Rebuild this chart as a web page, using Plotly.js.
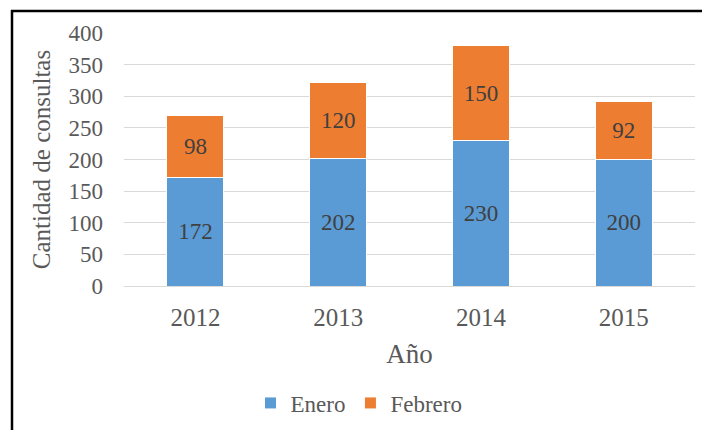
<!DOCTYPE html>
<html><head><meta charset="utf-8">
<script src="https://cdn.plot.ly/plotly-3.0.1.min.js"></script>
<style>html,body{margin:0;padding:0;background:#fff}#chart{width:702px;height:430px}</style>
</head><body><div id="chart"></div>
<script>
const years = ["2012", "2013", "2014", "2015"];
const enero = [172, 202, 230, 200];
const febrero = [98, 120, 150, 92];
const yTicks = [0, 50, 100, 150, 200, 250, 300, 350, 400];

const W = 702, H = 430;
const L = 124, R = 7, T = 33, B = 143;
const pw = W - L - R, ph = H - T - B;
const px = x => (x - L) / pw;
const py = y => (H - B - y) / ph;

const txtColor = '#595959';
const font = 'Liberation Serif';

const traces = [
  {type:'bar', name:'Enero', x: years, y: enero, text: enero.map(String),
   textposition:'inside', insidetextanchor:'middle', constraintext:'none',
   textfont:{family:font, size:23, color:'#404040'},
   marker:{color:'#5B9BD5', line:{color:'#ffffff', width:1}}, hoverinfo:'none'},
  {type:'bar', name:'Febrero', x: years, y: febrero, text: febrero.map(String),
   textposition:'inside', insidetextanchor:'middle', constraintext:'none',
   textfont:{family:font, size:23, color:'#404040'},
   marker:{color:'#ED7D31', line:{color:'#ffffff', width:1}}, hoverinfo:'none'}
];

const layout = {
  width: W, height: H,
  margin:{l:L, r:R, t:T, b:B},
  barmode:'stack', bargap:0.6,
  paper_bgcolor:'#fff', plot_bgcolor:'#fff',
  font:{family:font, color:txtColor, size:23},
  showlegend:true,
  legend:{orientation:'h', x:px(359), xanchor:'center', y:py(403), yanchor:'middle',
          font:{family:font, size:23, color:txtColor}, traceorder:'normal', itemwidth:30, itemgap:0},
  xaxis:{type:'category', showgrid:false, showline:true, linecolor:'#D9D9D9', linewidth:1,
         ticks:'', tickfont:{family:font, size:25, color:txtColor}, ticklabelstandoff:9,
         title:{text:'Año', font:{family:font, size:27, color:txtColor}, standoff:14},
         automargin:false, fixedrange:true},
  yaxis:{range:[0,400], tickvals:yTicks, showgrid:true, gridcolor:'#D9D9D9', gridwidth:1,
         zeroline:true, zerolinecolor:'#D9D9D9', showline:false, ticks:'',
         tickfont:{family:font, size:23, color:txtColor}, ticklabelstandoff:20,
         title:{text:'Cantidad de consultas', font:{family:font, size:25, color:txtColor}, standoff:10},
         automargin:false, fixedrange:true},
  shapes:[
    {type:'line', xref:'paper', yref:'paper', x0:px(12), x1:px(12), y0:py(432), y1:py(10),
     line:{color:'#000', width:2.5}},
    {type:'line', xref:'paper', yref:'paper', x0:px(11), x1:px(704), y0:py(11), y1:py(11),
     line:{color:'#000', width:2.5}}
  ]
};

Plotly.newPlot('chart', traces, layout, {displayModeBar:false, staticPlot:true});
</script></body></html>
